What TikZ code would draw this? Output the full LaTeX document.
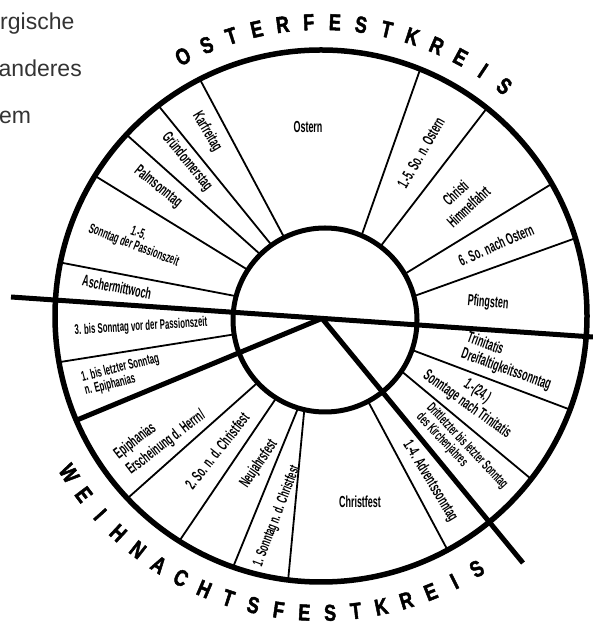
\documentclass[tikz,border=0pt]{standalone}
\usepackage{fontspec}
\setmainfont{Liberation Sans}
\newfontfamily\handfont{Liberation Sans Bold}[FakeStretch=0.56]
\newfontfamily\capfont{Liberation Sans Bold}[FakeStretch=0.78, FakeBold=2]
\usetikzlibrary{calc}
\definecolor{pagegray}{HTML}{333333}

\begin{document}
\begin{tikzpicture}[x=1pt, y=1pt,
    thinline/.style={line width=1.8pt},
    thickline/.style={line width=5pt},
    pagetext/.style={font=\fontsize{23}{23}\selectfont, text=pagegray, inner sep=0pt},
    lbl/.style={font=\handfont\fontsize{16}{17}\selectfont, inner sep=0pt},
    smalllbl/.style={font=\handfont\fontsize{14}{13}\selectfont, inner sep=0pt},
    ring/.style={font=\capfont\fontsize{23}{23}\selectfont, inner sep=0pt}]
\useasboundingbox (0,0) rectangle (593,626);
\coordinate (O) at (321,310);
\coordinate (I) at (325,306);

% text of the page beside the picture
\node[pagetext, anchor=base west] (txta) at (0,596) {rgische};
\node[pagetext, anchor=base east] (txtb) at (82,549) {anderes};
\node[pagetext, anchor=base west] (txtc) at (-1,502) {em};

% borders of the fields
\foreach \a/\b in {116.3/117.1, 125.5/127.7, 134.6/137, 147/148.2, 165/168.4,
                   189/190, 222.9/223.3, 238/237.8, 253/250.7, 257/262.9,
                   297.9/298.4, 326.2/322.2, 341/339.4, 15/17, 30/29.8,
                   53/51.4, 66.6/68.1}
{
    \draw[thinline] ($(I)+(\a:92)$) -- ($(O)+(\b:266)$);
}

\draw[line width=5.5pt] (O) circle (266);
\draw[line width=5pt] (I) circle (92);

% the three dividing strokes
\coordinate (wa) at (11,329);
\coordinate (wb) at (593,289);
\coordinate (j) at (322,307.6);
\coordinate (wc) at (77,206);
\coordinate (wd) at (523,63);
\draw[thickline] (wa) -- (wb);
\draw[thickline] (j) -- (wc);
\draw[thickline] (j) -- (wd);

% Osterfestkreis
\node[lbl] (ostern) at (308,499) {Ostern};
\node[lbl, rotate=-59] (karfr) at (207,494) {Karfreitag};
\node[lbl, rotate=-51] (gruend) at (187,464) {Gründonnerstag};
\node[lbl, rotate=-39] (palm) at (158,439) {Palmsonntag};
\node[smalllbl, rotate=-21, align=center] (passion) at (136,386) {1.-5.\\Sonntag der Passionszeit};
\node[lbl, rotate=-11] (ascher) at (117,339) {Aschermittwoch};
\node[lbl, rotate=-5] (pfingsten) at (488,323) {Pfingsten};
\node[lbl, rotate=23.7] (sechs) at (496,381) {6. So. nach Ostern};
\node[lbl, rotate=43, align=center] (himmel) at (462,426) {Christi\\[2pt]Himmelfahrt};
\node[lbl, rotate=60] (nachost) at (421,473) {1.-5. So. n. Ostern};

% Weihnachtsfestkreis
\node[smalllbl, rotate=3.6] (vorpass) at (141,299) {3. bis Sonntag vor der Passionszeit};
\node[smalllbl, rotate=14, align=left] (nepiph) at (122,251) {1. bis letzter Sonntag\\n. Epiphanias};
\node[lbl, rotate=37.6, align=left] (epiph) at (160,191) {Epiphanias\\[3pt]Erscheinung d. Herrn/};
\node[lbl, rotate=51.6] (zweiso) at (217,175) {2. So. n. d. Christfest};
\node[lbl, rotate=56] (neujahr) at (259,162) {Neujahrsfest};
\node[lbl, rotate=69, font=\handfont\fontsize{15}{15}\selectfont] (einsso) at (277,110) {1. Sonntag n. d. Christfest};
\node[lbl] (christ) at (360,124) {Christfest};
\node[lbl, rotate=-58.7] (advent) at (430,145) {1.-4. Adventssonntag};
\node[smalllbl, rotate=-46.8, align=left] (kirchj) at (462,175) {Drittletzter bis letzter Sonntag\\des Kirchenjahres};
\node[lbl, rotate=-35.6, align=center] (nachtrin) at (472,228) {1.-(24.)\\Sonntage nach Trinitatis};
\node[lbl, rotate=-19.8, align=left] (trinit) at (509,264) {Trinitatis\\Dreifaltigkeitssonntag};

% ring titles
\foreach \l [count=\i from 0] in {O,S,T,E,R,F,E,S,T,K,R,E,I,S}
{
    \node[ring, rotate={28-5.12*\i}] (oster\i) at ($(O)+({118-5.12*\i}:294)$) {\l};
}
\foreach \l [count=\i from 0] in {W,E,I,H,N,A,C,H,T,S,F,E,S,T,K,R,E,I,S}
{
    \node[ring, rotate={302+4.98*\i}] (weih\i) at ($(O)+({212+4.98*\i}:297)$) {\l};
}
\end{tikzpicture}
\end{document}
